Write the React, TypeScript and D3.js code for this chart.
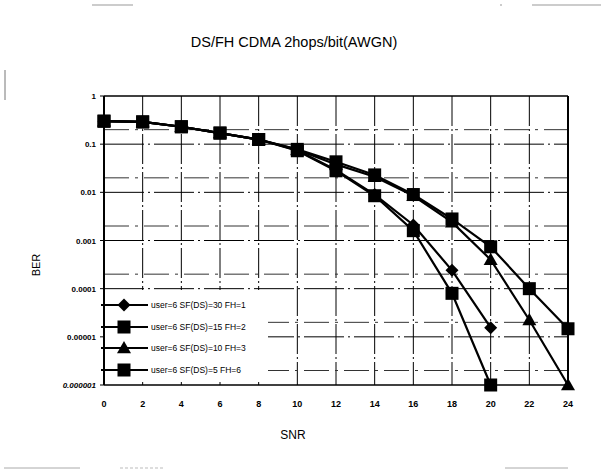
import * as d3 from "d3";

const W = 601;
const H = 473;
const L = 104;
const R = 568;
const T = 96;
const B = 385;

const snr = [0, 2, 4, 6, 8, 10, 12, 14, 16, 18, 20, 22, 24];
const berSf30 = [0.3, 0.29, 0.23, 0.17, 0.125, 0.075, 0.029, 0.009, 0.0021, 0.00024, 0.0000155];
const berSf15 = [0.3, 0.29, 0.23, 0.17, 0.125, 0.078, 0.043, 0.023, 0.009, 0.0028, 0.00074, 0.0001, 0.0000147];
const berSf10 = [0.3, 0.29, 0.23, 0.17, 0.125, 0.077, 0.038, 0.021, 0.0085, 0.0024, 0.0004, 0.0000224, 0.000001];
const berSf5 = [0.3, 0.29, 0.23, 0.17, 0.125, 0.073, 0.028, 0.0085, 0.0016, 0.00008, 0.000001];

const names = [
  "user=6 SF(DS)=30 FH=1",
  "user=6 SF(DS)=15 FH=2",
  "user=6 SF(DS)=10 FH=3",
  "user=6 SF(DS)=5 FH=6",
];
const shapes = ["diamond", "square", "triangle", "square"];
const yTicks = [1, 0.1, 0.01, 0.001, 0.0001, 0.00001, 0.000001];
const yTickLabels = ["1", "0.1", "0.01", "0.001", "0.0001", "0.00001", "0.000001"];

const FONT = "'Liberation Sans', Arial, sans-serif";

function Marker({ shape, cx, cy }: { shape: string; cx: number; cy: number }) {
  if (shape === "diamond") {
    const s = 6.5;
    return <path d={`M${cx},${cy - s}L${cx + s},${cy}L${cx},${cy + s}L${cx - s},${cy}Z`} fill="#000" />;
  }
  if (shape === "triangle") {
    const s = 7;
    return <path d={`M${cx},${cy - s}L${cx + s},${cy + s * 0.75}L${cx - s},${cy + s * 0.75}Z`} fill="#000" />;
  }
  return <rect x={cx - 6.5} y={cy - 6.5} width={13} height={13} fill="#000" />;
}

export default function App() {
  const x = d3.scaleLinear().domain([0, 24]).range([L, R]);
  const y = d3.scaleLog().domain([0.000001, 1]).range([B, T]);
  const series = [berSf30, berSf15, berSf10, berSf5];
  const line = d3
    .line<number>()
    .x((_, i) => x(snr[i]))
    .y((d) => y(d));

  // minor lines at 2 x 10^k, like the scanned grid
  const minor = yTicks.slice(1).map((v) => v * 2);

  const legX = L;
  const legY = [305, 327, 348, 370];

  return (
    <svg width={W} height={H} style={{ position: "absolute", left: 0, top: 0, background: "#fff" }} fontFamily={FONT}>
      <rect width={W} height={H} fill="#fff" />

      {/* scan edge artifacts */}
      <line x1={92} x2={133} y1={5} y2={5} stroke="#999" strokeWidth={1} />
      <line x1={500} x2={601} y1={5} y2={5} stroke="#999" strokeWidth={1} strokeDasharray="2 30 70" />
      <line x1={5} x2={5} y1={70} y2={100} stroke="#777" strokeWidth={1} />
      <line x1={4} x2={80} y1={468} y2={468} stroke="#aaa" strokeWidth={1} />
      <line x1={120} x2={165} y1={468} y2={468} stroke="#bbb" strokeWidth={1} strokeDasharray="3 2" />
      <line x1={505} x2={568} y1={468} y2={468} stroke="#aaa" strokeWidth={1} />

      <text x={294} y={47} textAnchor="middle" fontSize={14.5}>DS/FH CDMA 2hops/bit(AWGN)</text>

      {/* grid */}
      {snr.slice(1, -1).map((v) => (
        <line key={`gx${v}`} x1={x(v)} x2={x(v)} y1={T} y2={B} stroke="#000" strokeWidth={1} strokeDasharray="30 3 2 3" />
      ))}
      {yTicks.slice(1, -1).map((v) => (
        <line key={`gy${v}`} x1={L} x2={R} y1={y(v)} y2={y(v)} stroke="#000" strokeWidth={1} strokeDasharray="40 4 2 4" />
      ))}
      {minor.map((v) => (
        <line key={`gm${v}`} x1={L} x2={R} y1={y(v)} y2={y(v)} stroke="#333" strokeWidth={1} strokeDasharray="25 6 3 6" />
      ))}

      {/* legend box covers the grid */}
      <rect x={legX} y={290} width={164} height={92} fill="#fff" />

      {/* frame */}
      <line x1={L} x2={R} y1={T} y2={T} stroke="#000" strokeWidth={1.5} />
      <line x1={L} x2={R} y1={B} y2={B} stroke="#000" strokeWidth={1.5} />
      <line x1={L} x2={L} y1={T} y2={B} stroke="#000" strokeWidth={2} />
      <line x1={R} x2={R} y1={T} y2={B} stroke="#000" strokeWidth={2} />

      {yTicks.map((v, i) => (
        <g key={`yt${v}`}>
          <line x1={L - 4} x2={L} y1={y(v)} y2={y(v)} stroke="#000" />
          <text x={L - 8} y={y(v) + 3} textAnchor="end" fontSize={8} fontWeight="bold" fontStyle={v === 0.000001 ? "italic" : "normal"}>
            {yTickLabels[i]}
          </text>
        </g>
      ))}
      {snr.map((v) => (
        <text key={`xt${v}`} x={x(v)} y={407} textAnchor="middle" fontSize={9} fontWeight="bold">{v}</text>
      ))}

      <text x={293} y={439} textAnchor="middle" fontSize={12}>SNR</text>
      <text transform="translate(40,265) rotate(-90)" textAnchor="middle" fontSize={11}>BER</text>

      {/* series */}
      {series.map((s, k) => (
        <g key={`s${k}`}>
          <path d={line(s) ?? ""} fill="none" stroke="#000" strokeWidth={2.2} />
          {s.map((v, i) => (
            <Marker key={i} shape={shapes[k]} cx={x(snr[i])} cy={y(v)} />
          ))}
        </g>
      ))}

      {/* legend */}
      {names.map((n, k) => (
        <g key={n}>
          <line x1={legX - 3} x2={legX + 44} y1={legY[k]} y2={legY[k]} stroke="#000" strokeWidth={2} />
          <Marker shape={shapes[k]} cx={legX + 20} cy={legY[k]} />
          <text x={legX + 47} y={legY[k] + 3} fontSize={8.5}>{n}</text>
        </g>
      ))}
    </svg>
  );
}
